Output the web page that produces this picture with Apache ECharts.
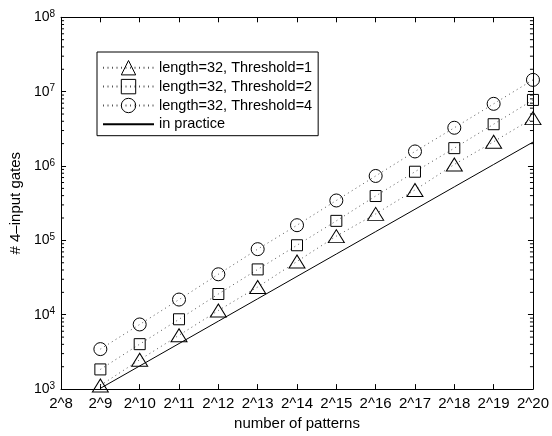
<!DOCTYPE html>
<html>
<head>
<meta charset="utf-8">
<style>
  html, body { margin: 0; padding: 0; background: #fff; }
  #chart { width: 552px; height: 436px; }
</style>
<script src="https://cdn.jsdelivr.net/npm/echarts@6/dist/echarts.min.js"></script>
</head>
<body>
<div id="chart"></div>
<script>
// Number of test patterns (x axis categories)
const patternLabels = ['2^8', '2^9', '2^10', '2^11', '2^12', '2^13', '2^14',
  '2^15', '2^16', '2^17', '2^18', '2^19', '2^20'];

// Estimated number of 4-input gates, length=32
const threshold1 = [null, 1120, 2480, 5300, 11400, 23600, 52100, 114000,
  227000, 477000, 1050000, 2120000, 4400000];
const threshold2 = [null, 1840, 4020, 8690, 19000, 40700, 86000, 183000,
  395000, 838000, 1740000, 3650000, 7740000];
const threshold4 = [null, 3450, 7400, 16000, 35000, 76200, 160000, 344000,
  735000, 1570000, 3270000, 6860000, 14400000];
// Gate count observed in practice
const inPractice = [null, 1024, 2048, 4096, 8192, 16384, 32768, 65536,
  131072, 262144, 524288, 1048576, 2097152];

const seriesNames = ['length=32, Threshold=1', 'length=32, Threshold=2',
  'length=32, Threshold=4', 'in practice'];

// Y axis range (decades)
const yMin = 1e3;
const yMax = 1e8;

const FONT = '"Liberation Sans", Arial, Helvetica, sans-serif';

// Log minor tick positions (2..9 within each decade)
const minorTicks = [];
for (let e = 3; e < 8; e++) {
  for (let m = 2; m <= 9; m++) minorTicks.push([0, m * Math.pow(10, e)]);
}

const chart = echarts.init(document.getElementById('chart'), null, { renderer: 'canvas' });

const hollow = { color: 'rgba(255,255,255,0)', borderColor: '#000', borderWidth: 1 };
const dotted = { color: '#555', width: 1, type: [1, 3.5] };

function markerSeries(name, data, symbol, size) {
  return {
    name: name, type: 'line', data: data,
    xAxisIndex: 0, yAxisIndex: 0,
    symbol: symbol, symbolSize: size, showSymbol: true,
    itemStyle: hollow, lineStyle: dotted,
    connectNulls: false, clip: false, z: 3
  };
}

const option = {
  animation: false,
  backgroundColor: '#fff',
  textStyle: { fontFamily: FONT, color: '#000' },
  grid: { left: 58, right: 14.5, top: 17.3, bottom: 40.5, containLabel: false },
  legend: {
    orient: 'vertical', left: 97, top: 52,
    itemWidth: 51, itemHeight: 18, itemGap: 3.5,
    padding: [8, 6, 4, 5],
    borderColor: '#000', borderWidth: 1, borderRadius: 0,
    backgroundColor: '#fff',
    itemStyle: { borderWidth: 1 },
    textStyle: { fontFamily: FONT, fontSize: 14.5, color: '#000' },
    data: seriesNames
  },
  xAxis: [{
    type: 'category', data: patternLabels, boundaryGap: false,
    position: 'bottom',
    name: 'number of patterns', nameLocation: 'middle', nameGap: 23.5,
    nameTextStyle: { fontFamily: FONT, fontSize: 15, color: '#000' },
    axisLine: { onZero: false, lineStyle: { color: '#000', width: 1 } },
    axisTick: { inside: true, length: 5, alignWithLabel: true, lineStyle: { color: '#000' } },
    axisLabel: { fontFamily: FONT, fontSize: 15, color: '#000', margin: 7, interval: 0 },
    splitLine: { show: false }
  }, {
    type: 'category', data: patternLabels, boundaryGap: false,
    position: 'top',
    axisLine: { onZero: false, lineStyle: { color: '#000', width: 1 } },
    axisTick: { inside: true, length: 5, lineStyle: { color: '#000' } },
    axisLabel: { show: false },
    splitLine: { show: false }
  }],
  yAxis: [{
    type: 'log', logBase: 10, min: yMin, max: yMax, splitNumber: 5,
    position: 'left',
    name: '# 4\u2013input gates', nameLocation: 'middle', nameGap: 33, nameRotate: 90,
    nameTextStyle: { fontFamily: FONT, fontSize: 15, color: '#000' },
    axisLine: { show: true, onZero: false, lineStyle: { color: '#000', width: 1 } },
    axisTick: { show: true, inside: true, length: 5, lineStyle: { color: '#000' } },
    axisLabel: {
      margin: 6, color: '#000',
      formatter: function (v) {
        return '{b|10}{s|' + Math.round(Math.log10(v)) + '}';
      },
      rich: {
        b: { fontFamily: FONT, fontSize: 14, lineHeight: 16, color: '#000' },
        s: { fontFamily: FONT, fontSize: 10, lineHeight: 10, verticalAlign: 'top', color: '#000' }
      }
    },
    splitLine: { show: false }
  }, {
    type: 'log', logBase: 10, min: yMin, max: yMax, splitNumber: 5,
    position: 'right',
    axisLine: { show: true, onZero: false, lineStyle: { color: '#000', width: 1 } },
    axisTick: { show: true, inside: true, length: 5, lineStyle: { color: '#000' } },
    axisLabel: { show: false },
    splitLine: { show: false }
  }],
  series: [
    // log minor ticks on the left and right frame edges
    {
      type: 'custom', xAxisIndex: 0, yAxisIndex: 0, silent: true, z: 1,
      data: minorTicks, encode: { x: 0, y: 1 },
      renderItem: function (params, api) {
        const y = api.coord([0, api.value(1)])[1];
        const cs = params.coordSys;
        const st = { stroke: '#000', lineWidth: 1 };
        return {
          type: 'group',
          children: [
            { type: 'line', shape: { x1: cs.x, y1: y, x2: cs.x + 3, y2: y }, style: st },
            { type: 'line', shape: { x1: cs.x + cs.width, y1: y, x2: cs.x + cs.width - 3, y2: y }, style: st }
          ]
        };
      }
    },
    markerSeries(seriesNames[0], threshold1, 'triangle', [16, 13]),
    markerSeries(seriesNames[1], threshold2, 'rect', [11, 11]),
    markerSeries(seriesNames[2], threshold4, 'circle', 13),
    {
      name: seriesNames[3], type: 'line', data: inPractice,
      xAxisIndex: 0, yAxisIndex: 0,
      symbol: 'circle', symbolSize: 0, showSymbol: false,
      itemStyle: { color: 'rgba(0,0,0,0)', borderWidth: 0 },
      lineStyle: { color: '#000', width: 1, type: 'solid' },
      z: 2
    }
  ]
};

chart.setOption(option);
</script>
</body>
</html>
